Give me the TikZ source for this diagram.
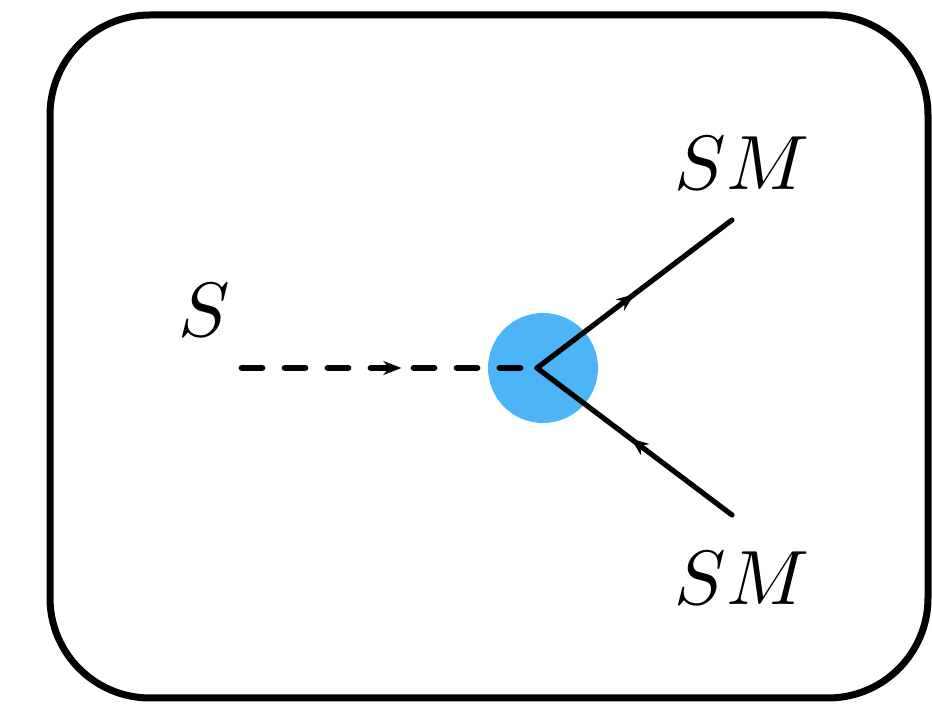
\documentclass[tikz,border=0pt]{standalone}
\usetikzlibrary{arrows.meta,decorations.markings}
\definecolor{blob}{RGB}{78,180,248}
\tikzset{
  midarrow/.style={postaction={decorate},decoration={markings,
    mark=at position #1 with {\arrow[line width=0.8pt]{Stealth[length=9pt,width=7pt]}}}},
  fermion/.style={line width=2.6pt,line cap=round},
  scalar/.style={line width=3.4pt,line cap=round,dash pattern=on 10pt off 11.5pt},
  lbl/.style={inner sep=0pt,scale=3.85}
}
\begin{document}
\begin{tikzpicture}[x=0.5pt,y=-0.5pt]
\useasboundingbox (0,0) rectangle (932,704);
\draw[line width=3.5pt,rounded corners=50pt] (50,15) rectangle (928,698);
\node[circle,fill=blob,minimum size=55pt,inner sep=0pt] (blob) at (543,368) {};
\coordinate (v) at (537,368);
\coordinate (s) at (242,368);
\coordinate (a) at (732,220);
\coordinate (b) at (732,515);
\draw[scalar] (s) -- (v);
\path[midarrow=0.54] (s) -- (v);
\draw[fermion,midarrow=0.5] (v) -- (a);
\draw[fermion,midarrow=0.52] (b) -- (v);
\node[lbl] (ls) at (204,310) {$S$};
\node[lbl] (la) at (742,163) {$SM$};
\node[lbl] (lb) at (742,578) {$SM$};
\end{tikzpicture}
\end{document}
